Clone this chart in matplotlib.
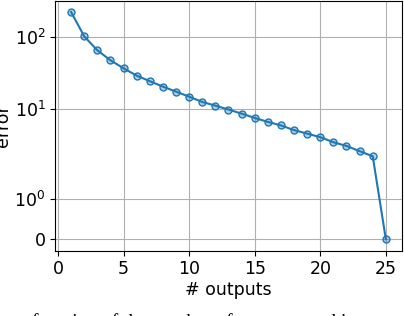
import matplotlib
matplotlib.use("Agg")
import matplotlib.pyplot as plt
import numpy as np

outputs = np.arange(1, 26)
error = [222, 102, 65.3, 47.4, 36.7, 29.0, 24.3, 20.4, 17.4, 14.8,
         12.5, 11.1, 9.8, 8.6, 7.5, 6.6, 5.9, 5.08, 4.54, 4.05,
         3.45, 3.06, 2.59, 2.20, 0]

blue = "#1f77b4"

fig = plt.figure(figsize=(4.04, 3.16), dpi=100)
ax = fig.add_axes([0.137, 0.207, 0.857, 0.791])

ax.plot(outputs, error, "-", color=blue, lw=1.5, marker="o", ms=5,
        mfc=(0.12, 0.47, 0.71, 0.35), mec=blue, mew=1.0)
ax.set_yscale("symlog", linthresh=2)
ax.set_yticks([0, 1, 10, 100])
ax.set_xticks([0, 5, 10, 15, 20, 25])
ax.grid(True, color="#b0b0b0", lw=0.8)
ax.tick_params(labelsize=12.5)
ax.set_xlabel("# outputs", fontsize=12.5, labelpad=2)
ax.set_ylabel("error", fontsize=12.5, labelpad=2)

# caption of the paper, mostly cut off by the crop
fig.text(0.08, -0.048, "function of the number of outputs used in",
         family="Liberation Serif", fontsize=14, va="bottom", ha="left")

fig.savefig("out.png", dpi=100)
